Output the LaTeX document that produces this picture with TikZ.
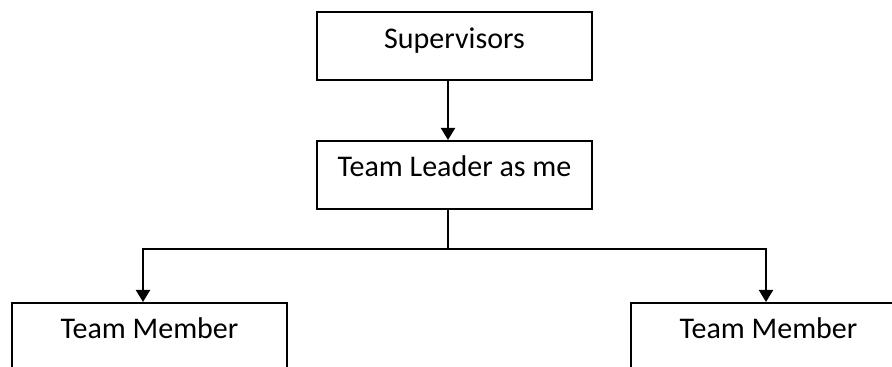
\documentclass[tikz,border=0pt]{standalone}
\usepackage{fontspec}
\setmainfont{Carlito}
\usetikzlibrary{arrows.meta}

\begin{document}
\begin{tikzpicture}[%
        x = 0.5pt, y = -0.5pt,
        box/.style = {draw, line width=1pt, minimum width=137.5pt,
            inner xsep=0pt, inner ysep=0pt, text height=18pt, text depth=16pt,
            font=\fontsize{15}{18}\selectfont},
        arrow/.style = {line width=1pt, -{Triangle[width=7pt,length=6pt]}}
    ]
      \clip (0,0) rectangle (892,367);
      \node[box] (sup) at (454.5,46.5) {Supervisors};
      \node[box] (lead) at (454.5,175) {Team Leader as me};
      \node[box] (left) at (149.5,337) {Team Member};
      \node[box] (right) at (768.5,337) {Team Member};
      \coordinate (split) at (448,249);
      \draw[arrow] (sup.south -| split) -- (lead.north -| split);
      \draw[line width=1pt] (lead.south -| split) -- (split);
      \draw[arrow] (split) -| ([xshift=-3.25pt]left.north);
      \draw[arrow] (split) -| ([xshift=-1.25pt]right.north);
    \end{tikzpicture}
\end{document}
